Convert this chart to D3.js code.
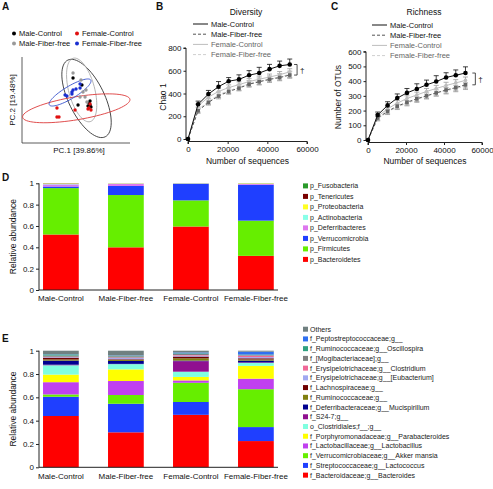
<!DOCTYPE html>
<html><head><meta charset="utf-8">
<script src="https://cdn.jsdelivr.net/npm/d3@7"></script>
<style>body{margin:0;background:#fff} svg text{font-family:"Liberation Sans",Arial,sans-serif;fill:#111}</style>
</head><body><svg id="c" width="493" height="489"></svg>
<script>
// ---------------- DATA ----------------
const groups = ["Male-Control","Male-Fiber-free","Female-Control","Female-Fiber-free"];

// Panel A: PCA scores [PC1, PC2]
const pcaMaleControl = [[-0.022,0.181],[0.044,0.130],[0.015,-0.019],[0.096,-0.004],[0.104,-0.019],[0.111,-0.033],[0.089,-0.026],[0.104,0.011]];
const pcaMaleFiberFree = [[-0.022,0.219],[0.037,0.167],[0.030,0.041],[0.067,0.041],[0.052,0.078],[0.081,0.004],[0.074,0.093]];
const pcaFemaleControl = [[-0.141,-0.041],[-0.141,-0.107],[-0.126,-0.107],[-0.007,-0.056],[0.096,-0.041],[0.111,-0.056],[0.089,-0.048],[0.104,-0.011]];
const pcaFemaleFiberFree = [[-0.081,0.056],[-0.067,0.048],[-0.030,0.078],[-0.022,0.093],[0.0,0.1],[0.030,0.107],[0.030,0.137],[-0.030,0.063]];
// ellipses: [cx, cy, semiMajor, semiMinor, angleDeg]
const ellipseMaleControl = [0.078,0.030,0.316,0.133,-64];
const ellipseMaleFiberFree = [0.042,0.093,0.243,0.096,-75];
const ellipseFemaleControl = [0.002,-0.043,0.403,0.085,9.5];
const ellipseFemaleFiberFree = [-0.044,0.074,0.179,0.046,31];

// Panels B/C: rarefaction
const seqDepth = [0,5100,10300,15400,20500,25700,30800,35900,41100,46200,51300];
const chaoMaleControl = [0,305,395,460,508,524,561,580,614,643,655];
const chaoMaleFiberFree = [0,248,322,378,418,447,482,503,524,540,562];
const chaoFemaleControl = [0,290,368,418,452,478,505,525,545,565,590];
const chaoFemaleFiberFree = [0,258,330,388,425,452,487,508,528,546,568];
const chaoErrMaleControl = [0,28,32,45,32,40,40,50,42,42,48];
const chaoErrOther = [0,22,24,25,24,24,26,28,26,28,28];
const richMaleControl = [0,170,235,285,320,347,375,397,425,440,455];
const richMaleFiberFree = [0,150,195,230,256,280,300,320,340,356,375];
const richFemaleControl = [0,160,212,250,282,306,330,350,370,388,405];
const richFemaleFiberFree = [0,145,190,225,250,275,300,320,335,350,366];
const richErrMaleControl = [0,20,25,28,30,35,32,40,32,36,42];
const richErrOther = [0,15,17,18,18,19,20,21,22,22,23];
const chaoTicks = [0,200,400,600,800];
const richTicks = [0,100,200,300,400,500,600];
const seqTicks = [0,20000,40000,60000];

// Panel D: phylum relative abundance (bottom -> top), values per group
const phyla = ["p_Bacteroidetes","p_Firmicutes","p_Verrucomicrobia","p_Deferribacteres","p_Actinobacteria","p_Proteobacteria","p_Tenericutes","p_Fusobacteria"];
const phylumValues = [
  [0.520,0.400,0.595,0.320],
  [0.435,0.490,0.245,0.330],
  [0.015,0.085,0.155,0.335],
  [0.020,0.020,0.002,0.008],
  [0.004,0.002,0.002,0.002],
  [0.003,0.002,0.001,0.003],
  [0.002,0.0005,0.0005,0.001],
  [0.001,0.0005,0.0005,0.001]
];
const phylumColors = ["#ff0000","#66ee00","#1f3fff","#dd77ee","#88ffe8","#ffff22","#7a0000","#2a9a2a"];

// Panel E: genus-level relative abundance (bottom -> top)
const genera = ["f_Bacteroidaceae;g__Bacteroides","f_Streptococcaceae;g__Lactococcus","f_Verrucomicrobiaceae;g__Akker mansia","f_Lactobacillaceae;g__Lactobacillus","f_Porphyromonadaceae;g__Parabacteroides","o_Clostridiales;f__;g__","f_S24-7;g__","f_Deferribacteraceae;g__Mucispirillum","f_Ruminococcaceae;g__","f_Lachnospiraceae;g__","f_Erysipelotrichaceae;g__[Eubacterium]","f_Erysipelotrichaceae;g__Clostridium","f_[Mogibacteriaceae];g__","f_Ruminococcaceae;g__Oscillospira","f_Peptostreptococcaceae;g__","Others"];
const genusValues = [
  [0.440,0.300,0.450,0.225],
  [0.165,0.245,0.110,0.120],
  [0.020,0.075,0.165,0.325],
  [0.105,0.120,0.020,0.090],
  [0.065,0.100,0.030,0.110],
  [0.080,0.045,0.045,0.025],
  [0.005,0.002,0.090,0.005],
  [0.035,0.025,0.005,0.015],
  [0.010,0.010,0.020,0.010],
  [0.015,0.005,0.015,0.010],
  [0.005,0.010,0.008,0.010],
  [0.003,0.005,0.005,0.012],
  [0.010,0.010,0.010,0.005],
  [0.010,0.005,0.005,0.005],
  [0.002,0.003,0.007,0.025],
  [0.030,0.040,0.015,0.008]
];
const genusColors = ["#ff0000","#1f3fff","#66ee00","#c040f0","#ffff00","#80ffe0","#901090","#000090","#808010","#700000","#a0a8f0","#f06898","#808080","#30a080","#3070f0","#708080"];
const abundTicks = [0,0.2,0.4,0.6,0.8,1];
const abundTickLabels = ["0","0.2","0.4","0.6","0.8","1"];

// ---------------- DRAWING ----------------
const svg = d3.select("#c");

function label(t,x,y,opts={}){
  const el = svg.append("text").attr("x",x).attr("y",y).text(t)
    .attr("font-size",opts.size||8).attr("text-anchor",opts.anchor||"start");
  if(opts.bold) el.attr("font-weight","bold");
  if(opts.rotate) el.attr("transform",`rotate(-90,${x},${y})`);
  return el;
}
label("A",2,10,{size:10,bold:true});
label("B",156,10,{size:10,bold:true});
label("C",331,10,{size:10,bold:true});
label("D",2,181,{size:10,bold:true});
label("E",2,342,{size:10,bold:true});

// ---- Panel A ----
(function(){
  const x = d3.scaleLinear().domain([-0.4,0.4]).range([22,130]);
  const y = d3.scaleLinear().domain([-0.3,0.337]).range([143,57]);
  const g = svg.append("g");
  g.append("line").attr("x1",x(-0.4)).attr("x2",x(-0.4)).attr("y1",y(0.337)).attr("y2",y(-0.3)).attr("stroke","#333").attr("stroke-width",0.8);
  g.append("line").attr("x1",x(-0.4)).attr("x2",x(0.4)).attr("y1",y(-0.3)).attr("y2",y(-0.3)).attr("stroke","#333").attr("stroke-width",0.8);
  label("PC.1 [39.86%]",79,153,{size:8,anchor:"middle"});
  label("PC.2 [19.48%]",15,100,{size:8,anchor:"middle",rotate:true});
  const line = d3.line().x(d=>x(d[0])).y(d=>y(d[1])).curve(d3.curveLinearClosed);
  function ell(p){
    const [cx,cy,a,b,ang]=p, r=ang*Math.PI/180, pts=[];
    for(let i=0;i<72;i++){const t=i/72*2*Math.PI;
      pts.push([cx+a*Math.cos(t)*Math.cos(r)-b*Math.sin(t)*Math.sin(r), cy+a*Math.cos(t)*Math.sin(r)+b*Math.sin(t)*Math.cos(r)]);}
    return pts;
  }
  const sets = [
    [ellipseMaleControl,pcaMaleControl,"#333","#000"],
    [ellipseMaleFiberFree,pcaMaleFiberFree,"#aaa","#999"],
    [ellipseFemaleControl,pcaFemaleControl,"#dd3b3b","#e01010"],
    [ellipseFemaleFiberFree,pcaFemaleFiberFree,"#3550cc","#1a2fd0"]
  ];
  sets.forEach(s=>g.append("path").attr("d",line(ell(s[0]))).attr("fill","none").attr("stroke",s[2]).attr("stroke-width",0.9));
  sets.forEach(s=>g.selectAll(null).data(s[1]).enter().append("circle")
    .attr("cx",d=>x(d[0])).attr("cy",d=>y(d[1])).attr("r",1.7).attr("fill",s[3]));
  const leg = [["Male-Control","#000",14,36],["Female-Control","#e01010",77,36],["Male-Fiber-free","#999",14,46],["Female-Fiber-free","#1a2fd0",77,46]];
  leg.forEach(l=>{g.append("circle").attr("cx",l[2]).attr("cy",l[3]-2.5).attr("r",2).attr("fill",l[1]);
    label(l[0],l[2]+5,l[3],{size:7.5});});
})();

// ---- Panels B & C ----
function rarefaction(cfg){
  const x = d3.scaleLinear().domain([0,60000]).range(cfg.xr);
  const y = d3.scaleLinear().domain([0,cfg.ymax]).range(cfg.yr);
  const g = svg.append("g");
  const ax = x(0)-2, ay = y(0)+2.5;
  g.append("g").attr("transform",`translate(${ax},0)`)
    .call(d3.axisLeft(y).tickValues(cfg.yticks).tickSize(2.5).tickPadding(2).tickFormat(d3.format("d")))
    .call(s=>{s.select(".domain").attr("d",`M-2.5,${y(cfg.ymax)}H0V${y(0)}`).attr("stroke","#222");s.selectAll("text").attr("font-size",8);s.selectAll("line").attr("stroke","#222");});
  g.append("g").attr("transform",`translate(0,${ay})`)
    .call(d3.axisBottom(x).tickValues(seqTicks).tickSize(2.5).tickPadding(2).tickFormat(d3.format("d")))
    .call(s=>{s.select(".domain").attr("d",`M${x(0)},2.5V0H${x(60000)}V2.5`).attr("stroke","#222");s.selectAll("text").attr("font-size",8);s.selectAll("line").attr("stroke","#222");});
  label(cfg.title,cfg.titleX,15,{size:8.5,anchor:"middle"});
  label("Number of sequences",(x(0)+x(60000))/2,164,{size:8.5,anchor:"middle"});
  label(cfg.ylabel,cfg.ylabX,97,{size:8.5,anchor:"middle",rotate:true});
  const series = [
    {v:cfg.ffv, e:cfg.eo, stroke:"#cfcfcf", dash:"3,2", mk:"#cfcfcf", up:true, down:true, sq:true},
    {v:cfg.fcv, e:cfg.eo, stroke:"#bdbdbd", dash:null, mk:"#bdbdbd", up:true, down:false},
    {v:cfg.mfv, e:cfg.eo, stroke:"#555", dash:"3,2", mk:"#666", up:false, down:true, sq:true},
    {v:cfg.mcv, e:cfg.em, stroke:"#111", dash:null, mk:"#000", up:true, down:false}
  ];
  const ln = d3.line().x((d,i)=>x(seqDepth[i])).y(d=>y(d));
  series.forEach(s=>{
    const eg = g.append("g").attr("stroke",s.mk==="#000"?"#111":"#9a9a9a").attr("stroke-width",0.8);
    s.v.forEach((v,i)=>{ if(i===0) return;
      const cx=x(seqDepth[i]), top=y(v+(s.up?s.e[i]:0)), bot=y(v-(s.down?s.e[i]:0));
      eg.append("line").attr("x1",cx).attr("x2",cx).attr("y1",top).attr("y2",bot);
      if(s.up) eg.append("line").attr("x1",cx-2.5).attr("x2",cx+2.5).attr("y1",top).attr("y2",top);
      if(s.down) eg.append("line").attr("x1",cx-2.5).attr("x2",cx+2.5).attr("y1",bot).attr("y2",bot);
    });
    g.append("path").attr("d",ln(s.v)).attr("fill","none").attr("stroke",s.stroke).attr("stroke-width",1).attr("stroke-dasharray",s.dash);
    g.selectAll(null).data(s.v).enter().append(s.sq?"rect":"circle")
      .each(function(d,i){const el=d3.select(this);
        if(s.sq) el.attr("x",x(seqDepth[i])-1.8).attr("y",y(d)-1.8).attr("width",3.6).attr("height",3.6);
        else el.attr("cx",x(seqDepth[i])).attr("cy",y(d)).attr("r",s.mk==="#000"?2.3:1.8);})
      .attr("fill",s.mk);
  });
  // legend
  const names=["Male-Control","Male-Fiber-free","Female-Control","Female-Fiber-free"];
  const ls=[["#111",null],["#555","3,2"],["#bdbdbd",null],["#cfcfcf","3,2"]];
  names.forEach((n,i)=>{const yy=cfg.legY+i*10.2;
    g.append("line").attr("x1",cfg.legX).attr("x2",cfg.legX+15).attr("y1",yy).attr("y2",yy).attr("stroke",ls[i][0]).attr("stroke-width",1).attr("stroke-dasharray",ls[i][1]);
    label(n,cfg.legX+18,yy+2.5,{size:7.5}).style("fill",i>=2?"#666":"#111");
  });
  // significance bracket
  const bx = x(cfg.brX), t=y(cfg.mcv[cfg.mcv.length-1]), b=y(cfg.mfv[cfg.mfv.length-1]);
  g.append("path").attr("d",`M${bx-3},${t}H${bx}V${b}H${bx-3}`).attr("fill","none").attr("stroke","#222").attr("stroke-width",0.8);
  label("\u2020",bx+3,(t+b)/2+3,{size:8});
}
rarefaction({xr:[188,307],yr:[139,48],ymax:800,yticks:chaoTicks,title:"Diversity",titleX:246,ylabel:"Chao 1",ylabX:166,
  mcv:chaoMaleControl,mfv:chaoMaleFiberFree,fcv:chaoFemaleControl,ffv:chaoFemaleFiberFree,em:chaoErrMaleControl,eo:chaoErrOther,
  legX:193,legY:24,brX:55000});
rarefaction({xr:[368,482],yr:[140,51.7],ymax:600,yticks:richTicks,title:"Richness",titleX:424,ylabel:"Number of OTUs",ylabX:341,
  mcv:richMaleControl,mfv:richMaleFiberFree,fcv:richFemaleControl,ffv:richFemaleFiberFree,em:richErrMaleControl,eo:richErrOther,
  legX:372,legY:25,brX:56500});

// ---- Panels D & E ----
function stacked(cfg){
  const x = d3.scaleBand().domain(groups).range([28.4,288.4]).paddingInner(0.45).paddingOuter(0.225);
  const y = d3.scaleLinear().domain([0,1]).range(cfg.yr);
  const g = svg.append("g");
  const rows = groups.map((grp,gi)=>{const o={group:grp}; cfg.names.forEach((n,k)=>o[n]=cfg.values[k][gi]); return o;});
  const st = d3.stack().keys(cfg.names)(rows);
  st.forEach((layer,k)=>{
    g.selectAll(null).data(layer).enter().append("rect")
      .attr("x",d=>x(d.data.group)).attr("width",x.bandwidth())
      .attr("y",d=>y(d[1])).attr("height",d=>Math.max(0,y(d[0])-y(d[1])))
      .attr("fill",cfg.colors[k]);
  });
  g.append("g").attr("transform",`translate(39,0)`)
    .call(d3.axisLeft(y).tickValues(abundTicks).tickSize(3).tickPadding(2).tickFormat((d,i)=>abundTickLabels[i]))
    .call(s=>{s.select(".domain").attr("d",`M0,${y(1)}V${y(0)}`).attr("stroke","#222");s.selectAll("text").attr("font-size",8);s.selectAll("line").attr("stroke","#222");});
  g.append("line").attr("x1",39).attr("x2",278).attr("y1",y(0)).attr("y2",y(0)).attr("stroke","#222").attr("stroke-width",1);
  groups.forEach(grp=>label(grp,x(grp)+x.bandwidth()/2,cfg.labY,{size:8,anchor:"middle"}));
  label("Relative abundance",16,(y(0)+y(1))/2,{size:8.5,anchor:"middle",rotate:true});
  // legend (top item = last layer)
  const n=cfg.names.length;
  for(let k=n-1;k>=0;k--){const idx=n-1-k, yy=cfg.legY+idx*cfg.legStep;
    g.append("rect").attr("x",303).attr("y",yy-2.6).attr("width",5).attr("height",5).attr("fill",cfg.colors[k]);
    label(cfg.names[k],310,yy+2.4,{size:7}).style("fill","#222");
  }
}
stacked({names:phyla,values:phylumValues,colors:phylumColors,yr:[290,183.3],labY:301,legY:186,legStep:10.5});
stacked({names:genera,values:genusValues,colors:genusColors,yr:[467.3,350.7],labY:479,legY:329.3,legStep:9.73});
</script></body></html>
